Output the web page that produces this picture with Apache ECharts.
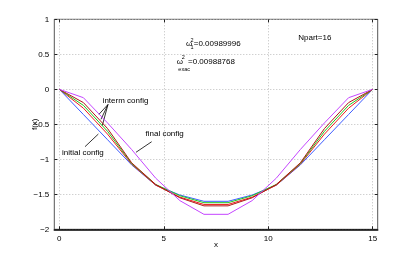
<!DOCTYPE html>
<html><head><meta charset="utf-8">
<script src="https://cdn.jsdelivr.net/npm/echarts@6/dist/echarts.min.js"></script>
<style>html,body{margin:0;padding:0;background:#fff}#c{width:417px;height:258px}</style>
</head><body><div id="c"></div>
<script>
// ---- data ----
const xValues = [0, 1.154, 2.308, 3.462, 4.615, 5.769, 6.923, 8.077, 9.231, 10.385, 11.538, 12.692, 13.846, 15];
const initialConfig = [0, -0.36, -0.72, -1.08, -1.37, -1.51, -1.60, -1.60, -1.51, -1.37, -1.08, -0.72, -0.36, 0];
const intermRed     = [0, -0.27, -0.64, -1.07, -1.37, -1.54, -1.645, -1.645, -1.54, -1.37, -1.07, -0.64, -0.27, 0];
const intermGreen   = [0, -0.23, -0.60, -1.06, -1.36, -1.52, -1.62, -1.62, -1.52, -1.36, -1.06, -0.60, -0.23, 0];
const intermDark    = [0, -0.19, -0.56, -1.05, -1.36, -1.55, -1.665, -1.665, -1.55, -1.36, -1.05, -0.56, -0.19, 0];
const finalConfig   = [0, -0.12, -0.48, -0.86, -1.27, -1.59, -1.786, -1.786, -1.59, -1.27, -0.86, -0.48, -0.12, 0];
const xTicks = [0, 5, 10, 15];
const yTicks = [-2, -1.5, -1, -0.5, 0, 0.5, 1];
const omega1Text = '=0.00989996';
const omegaExacText = '=0.00988768';
const npartText = 'Npart=16';

const FONT = 'Liberation Sans, Arial, Helvetica, sans-serif';
const chart = echarts.init(document.getElementById('c'));
const pair = arr => arr.map((v, i) => [xValues[i], v]);
const mkLine = (name, arr, color) => ({
  name, type: 'line', data: pair(arr), xAxisIndex: 0, yAxisIndex: 0,
  symbol: 'none', lineStyle: { color, width: 1 }, itemStyle: { color }, silent: true, z: 5
});
const dotted = { show: true, lineStyle: { color: '#bdbdbd', width: 1, type: [1, 2] } };
const tickStyle = { show: true, inside: true, length: 3, lineStyle: { color: '#222', width: 1 } };

const arrows = [
  [[2.33, -0.217], [1.90, -0.357]],
  [[2.33, -0.217], [1.995, -0.429]],
  [[2.33, -0.217], [2.057, -0.52]],
  [[1.23, -0.82], [1.87, -0.639]],
  [[4.42, -0.749], [3.67, -0.9]]
];

chart.setOption({
  animation: false,
  textStyle: { fontFamily: FONT },
  grid: [
    { left: 59.3, right: 44.3, top: 19.3, bottom: 28.7, show: false },
    { left: 54.3, right: 39.3, top: 19.3, bottom: 28.7, show: true, borderColor: '#555', borderWidth: 1, backgroundColor: 'transparent' }
  ],
  xAxis: [
    { type: 'value', gridIndex: 0, min: 0, max: 15, interval: 5, position: 'bottom',
      axisLine: { show: false, onZero: false }, axisTick: tickStyle,
      axisLabel: { fontSize: 8, color: '#000', margin: 5, fontFamily: FONT },
      splitLine: dotted },
    { type: 'value', gridIndex: 0, min: 0, max: 15, interval: 5, position: 'top',
      axisLine: { show: false, onZero: false }, axisTick: tickStyle, axisLabel: { show: false }, splitLine: { show: false } },
    { type: 'value', gridIndex: 1, min: 0, max: 1, position: 'bottom',
      axisLine: { show: true, onZero: false, lineStyle: { color: '#000', width: 1.6 } }, axisTick: { show: false },
      axisLabel: { show: false }, splitLine: { show: false } }
  ],
  yAxis: [
    { type: 'value', gridIndex: 0, min: -2, max: 1, interval: 0.5, show: false },
    { type: 'value', gridIndex: 1, min: -2, max: 1, interval: 0.5, position: 'left',
      axisLine: { show: false, onZero: false }, axisTick: tickStyle,
      axisLabel: { fontSize: 8, color: '#000', margin: 5, fontFamily: FONT,
        formatter: v => String(v).replace('-', '\u2212') },
      splitLine: dotted },
    { type: 'value', gridIndex: 1, min: -2, max: 1, interval: 0.5, position: 'right',
      axisLine: { show: false, onZero: false }, axisTick: tickStyle, axisLabel: { show: false }, splitLine: { show: false } }
  ],
  series: [
    mkLine('initial config', initialConfig, '#3d5cff'),
    mkLine('interm 1', intermRed, '#ee1c1c'),
    mkLine('interm 2', intermGreen, '#1ec81e'),
    mkLine('interm 3', intermDark, '#b01414'),
    mkLine('final config', finalConfig, '#c445ff'),
    { type: 'line', data: [], xAxisIndex: 0, yAxisIndex: 0, silent: true,
      markLine: { silent: true, animation: false, symbol: ['none', 'arrow'], symbolSize: [0, 5],
        label: { show: false }, lineStyle: { color: '#000', width: 0.8, type: 'solid' },
        emphasis: { disabled: true },
        data: arrows.map(a => [{ coord: a[0] }, { coord: a[1] }]) } }
  ]
});

// annotations placed from data coordinates
const P = (x, y) => chart.convertToPixel({ xAxisIndex: 0, yAxisIndex: 0 }, [x, y]);
const txt = (pt, text, size, align, extra) => Object.assign({
  type: 'text', x: pt[0], y: pt[1],
  style: { text, fontSize: size, fontFamily: FONT, fill: '#000', align: align || 'center', verticalAlign: 'middle' }, z: 10
}, extra || {});
const w1 = P(6.06, 0.647), we = P(5.62, 0.397);
const xName = P(7.5, -2), yName = P(0, -0.5);
chart.setOption({
  graphic: [
    txt([xName[0], xName[1] + 15], 'x', 8),
    txt([yName[0] - 24.5, yName[1]], 'f(x)', 8, 'center', { rotation: Math.PI / 2 }),
    txt(P(12.23, 0.729), npartText, 8),
    txt(P(3.17, -0.163), 'interm config', 8),
    txt(P(5.04, -0.629), 'final config', 8),
    txt(P(1.13, -0.9), 'initial config', 8),
    txt(w1, '\u03c9', 8, 'left'),
    txt([w1[0] + 4.6, w1[1] - 3.6], '2', 5.5, 'left'),
    txt([w1[0] + 4.6, w1[1] + 3.2], '1', 5.5, 'left'),
    txt([w1[0] + 7.8, w1[1]], omega1Text, 8, 'left'),
    txt(we, '\u03c9', 8, 'left'),
    txt([we[0] + 5, we[1] - 4], '2', 5.5, 'left'),
    txt([we[0] + 1.6, we[1] + 7.5], 'exac', 5.5, 'left'),
    txt([we[0] + 11.3, we[1]], omegaExacText, 8, 'left')
  ]
});
</script></body></html>
